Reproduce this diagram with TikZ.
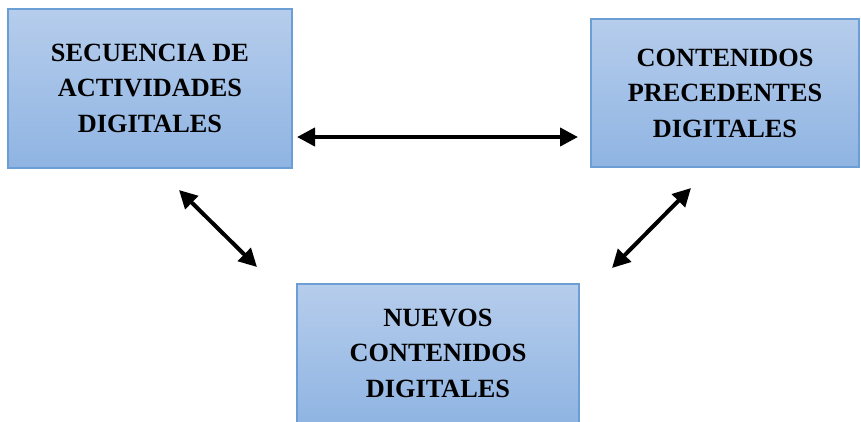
\documentclass[tikz,border=0pt]{standalone}
\usepackage{fontspec}
\setmainfont{Liberation Serif}
\usetikzlibrary{arrows.meta}
\definecolor{boxtop}{RGB}{182,205,236}
\definecolor{boxbot}{RGB}{143,180,226}
\definecolor{boxline}{RGB}{108,158,214}
\tikzset{
  box/.style={draw=boxline, line width=1.5pt, top color=boxtop, bottom color=boxbot},
  lbl/.style={align=center, font=\fontsize{26.3}{35.5}\selectfont\bfseries, inner sep=0pt},
  dbl/.style={{Triangle[length=18pt,width=18pt]}-{Triangle[length=18pt,width=18pt]}, line width=4pt, black}
}
\begin{document}
\begin{tikzpicture}[x=1pt,y=-1pt]
\useasboundingbox (0,0) rectangle (861,421);
\fill[white] (0,0) rectangle (861,421);
% boxes
\path[box] (8,9) rectangle (292,168);
\path[box] (591,19) rectangle (859,167);
\path[box] (297,284) rectangle (579,425);
\node[lbl] (a) at (150,88) {SECUENCIA DE\\ACTIVIDADES\\DIGITALES};
\node[lbl] (b) at (725,93) {CONTENIDOS\\PRECEDENTES\\DIGITALES};
\node[lbl] (c) at (438,353) {NUEVOS\\CONTENIDOS\\DIGITALES};
% arrow ends
\coordinate (h1) at (297,137);
\coordinate (h2) at (578,137);
\coordinate (l1) at (179,190);
\coordinate (l2) at (257,267);
\coordinate (r1) at (691,188);
\coordinate (r2) at (612,268);
\draw[dbl] (h1) -- (h2);
\draw[dbl] (l1) -- (l2);
\draw[dbl] (r1) -- (r2);
\end{tikzpicture}
\end{document}
